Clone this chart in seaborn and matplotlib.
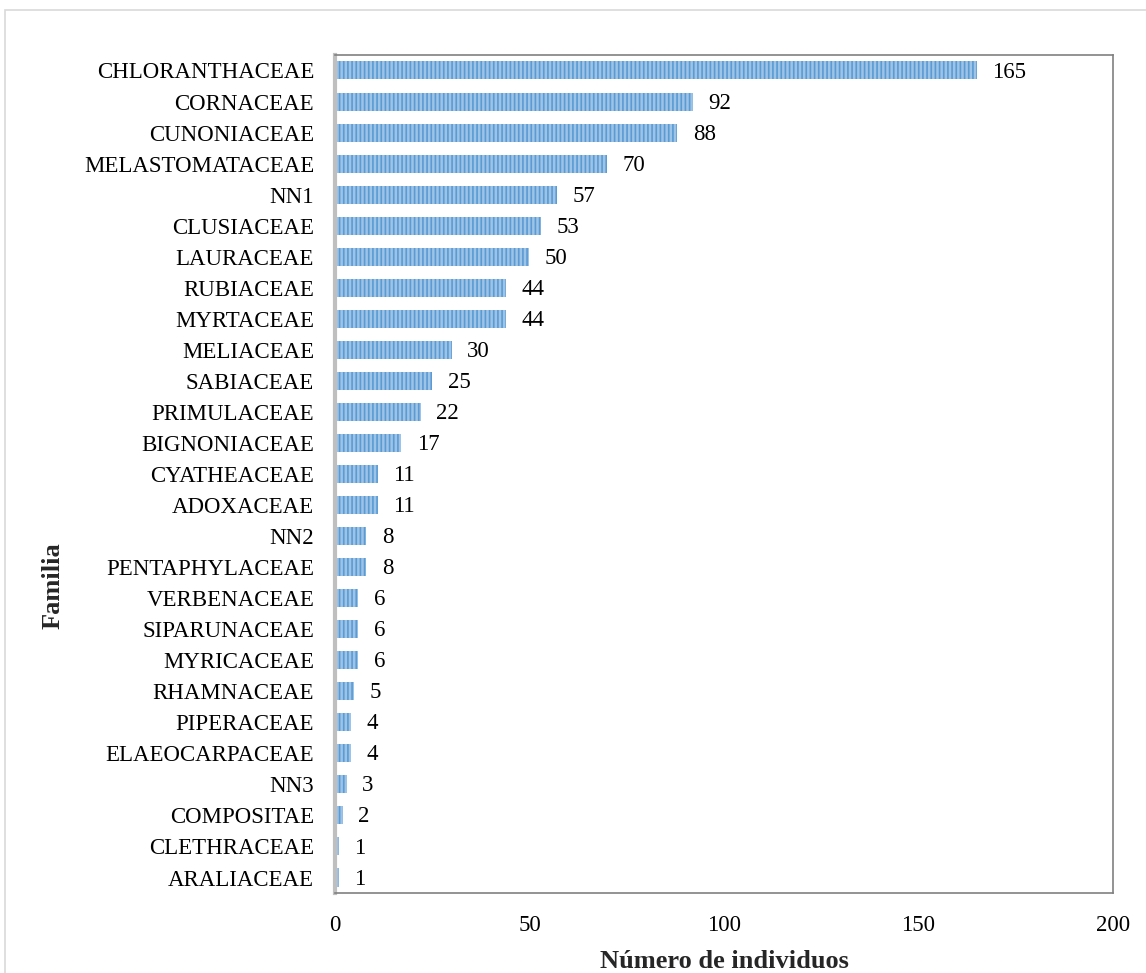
import matplotlib
matplotlib.use('Agg')
import matplotlib.pyplot as plt
import pandas as pd
import seaborn as sns
from matplotlib.patches import Rectangle

familias = ['CHLORANTHACEAE', 'CORNACEAE', 'CUNONIACEAE', 'MELASTOMATACEAE', 'NN1',
            'CLUSIACEAE', 'LAURACEAE', 'RUBIACEAE', 'MYRTACEAE', 'MELIACEAE',
            'SABIACEAE', 'PRIMULACEAE', 'BIGNONIACEAE', 'CYATHEACEAE', 'ADOXACEAE',
            'NN2', 'PENTAPHYLACEAE', 'VERBENACEAE', 'SIPARUNACEAE', 'MYRICACEAE',
            'RHAMNACEAE', 'PIPERACEAE', 'ELAEOCARPACEAE', 'NN3', 'COMPOSITAE',
            'CLETHRACEAE', 'ARALIACEAE']
individuos = [165, 92, 88, 70, 57, 53, 50, 44, 44, 30, 25, 22, 17, 11, 11,
              8, 8, 6, 6, 6, 5, 4, 4, 3, 2, 1, 1]

df = pd.DataFrame({'Familia': familias, 'Individuos': individuos})

sns.set_style('white')
plt.rcParams['font.family'] = ['Liberation Serif', 'DejaVu Serif']
plt.rcParams['hatch.linewidth'] = 1.2

fig = plt.figure(figsize=(11.46, 9.73), dpi=100)
ax = fig.add_axes([0.2923, 0.0822, 0.6789, 0.8613])

sns.barplot(data=df, y='Familia', x='Individuos', orient='h', ax=ax,
            color='#9DC3E6', width=0.58, saturation=1)
for bar in ax.patches:
    bar.set_hatch('||||')
    bar.set_edgecolor('#5B9BD5')
    bar.set_linewidth(0)

for i, v in enumerate(individuos):
    ax.text(v + 4, i + 0.05, str(v), va='center', ha='left', fontsize=16.5, color='black')

ax.set_xlim(0, 200)
ax.set_xticks([0, 50, 100, 150, 200])
ax.tick_params(axis='both', length=0, labelsize=16.5, colors='black')
ax.tick_params(axis='x', pad=16)
ax.tick_params(axis='y', pad=15)
ax.set_xlabel('Número de individuos', fontsize=19, fontweight='bold', labelpad=10)
ax.set_ylabel('Familia', fontsize=19, fontweight='bold')
ax.yaxis.set_label_coords(-0.348, 0.367)

for s in ['top', 'right', 'bottom']:
    ax.spines[s].set_color('#808080')
    ax.spines[s].set_linewidth(1.2)
ax.spines['left'].set_color('#BFBFBF')
ax.spines['left'].set_linewidth(3)

fig.patches.append(Rectangle((5 / 1146, -0.01), 1.0, 1 - 10 / 973 + 0.01,
                             transform=fig.transFigure, fill=False,
                             edgecolor='#D9D9D9', linewidth=1.2))

fig.savefig('out.png', dpi=100)
